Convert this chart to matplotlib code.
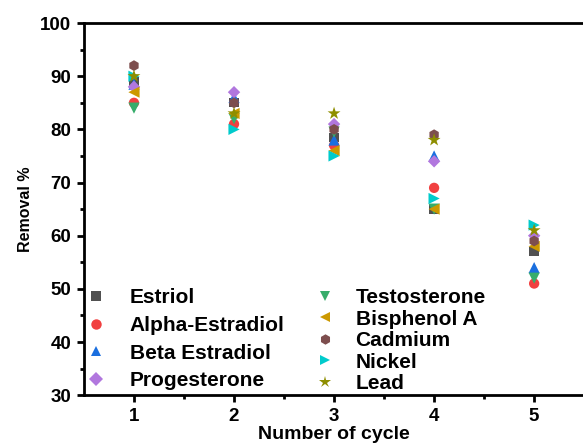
import numpy as np
import matplotlib.pyplot as plt
from matplotlib.lines import Line2D

plt.rcParams['font.family'] = ['Liberation Sans', 'DejaVu Sans']
plt.rcParams['font.weight'] = 'bold'

cycles = [1, 2, 3, 4, 5]

estriol = [89, 85, 78.5, 65, 57]
alpha_estradiol = [85, 81, 77, 69, 51]
beta_estradiol = [88.5, 86, 78, 75, 54]
progesterone = [88, 87, 81, 74, 60]
testosterone = [84, 82, 79.5, 65, 52]
bisphenol_a = [87, 83, 76, 65, 58]
cadmium = [92, 85, 80, 79, 59]
nickel = [90, 80, 75, 67, 62]
lead = [90, 83, 83, 78, 61]

series = [
    ('Estriol', estriol, 's', '#515151'),
    ('Alpha-Estradiol', alpha_estradiol, 'o', '#F14040'),
    ('Beta Estradiol', beta_estradiol, '^', '#1A6FDF'),
    ('Progesterone', progesterone, 'D', '#B177DE'),
    ('Testosterone', testosterone, 'v', '#37AD6B'),
    ('Bisphenol A', bisphenol_a, '<', '#CC9900'),
    ('Cadmium', cadmium, 'h', '#7D4E4E'),
    ('Nickel', nickel, '>', '#00CBCC'),
    ('Lead', lead, '*', '#8E8E00'),
]
sizes = {'s': 45, 'o': 55, '^': 65, 'D': 40, 'v': 65, '<': 65, 'h': 60, '>': 65, '*': 95}

fig = plt.figure(figsize=(5.83, 4.44), dpi=100)
ax = fig.add_axes([0.144, 0.110, 0.858, 0.838])

handles = []
for name, vals, mk, col in series:
    ax.scatter(cycles, vals, marker=mk, s=sizes[mk], color=col, edgecolors='none', zorder=3)
    handles.append(Line2D([], [], ls='none', marker=mk, color=col,
                          markersize=7.5 if mk != '*' else 9, markeredgewidth=0, label=name))

ax.set_xlim(0.5, 5.5)
ax.set_ylim(30, 100)
ax.set_xticks(cycles)
ax.set_xticks([1.5, 2.5, 3.5, 4.5], minor=True)
ax.set_yticks(np.arange(30, 101, 10))
ax.set_yticks(np.arange(35, 100, 10), minor=True)

for sp in ax.spines.values():
    sp.set_linewidth(2)
ax.tick_params(which='major', direction='out', length=5, width=2, labelsize=13.5, pad=4)
ax.tick_params(which='minor', direction='out', length=3, width=2)

ax.set_xlabel('Number of cycle', fontsize=14, fontweight='bold', labelpad=1)
ax.set_ylabel('Removal %', fontsize=11.5, fontweight='bold', labelpad=5)

leg1 = ax.legend(handles=handles[:4], loc='upper left', bbox_to_anchor=(-0.013, 0.31),
                 frameon=False, fontsize=15, labelspacing=0.42, handletextpad=1.12,
                 borderaxespad=0, handlelength=1.0)
for t in leg1.get_texts():
    t.set_fontweight('bold')
ax.add_artist(leg1)
leg2 = ax.legend(handles=handles[4:], loc='upper left', bbox_to_anchor=(0.445, 0.31),
                 frameon=False, fontsize=15, labelspacing=0.12, handletextpad=0.95,
                 borderaxespad=0, handlelength=1.0)
for t in leg2.get_texts():
    t.set_fontweight('bold')

fig.savefig('out.png', dpi=100)
